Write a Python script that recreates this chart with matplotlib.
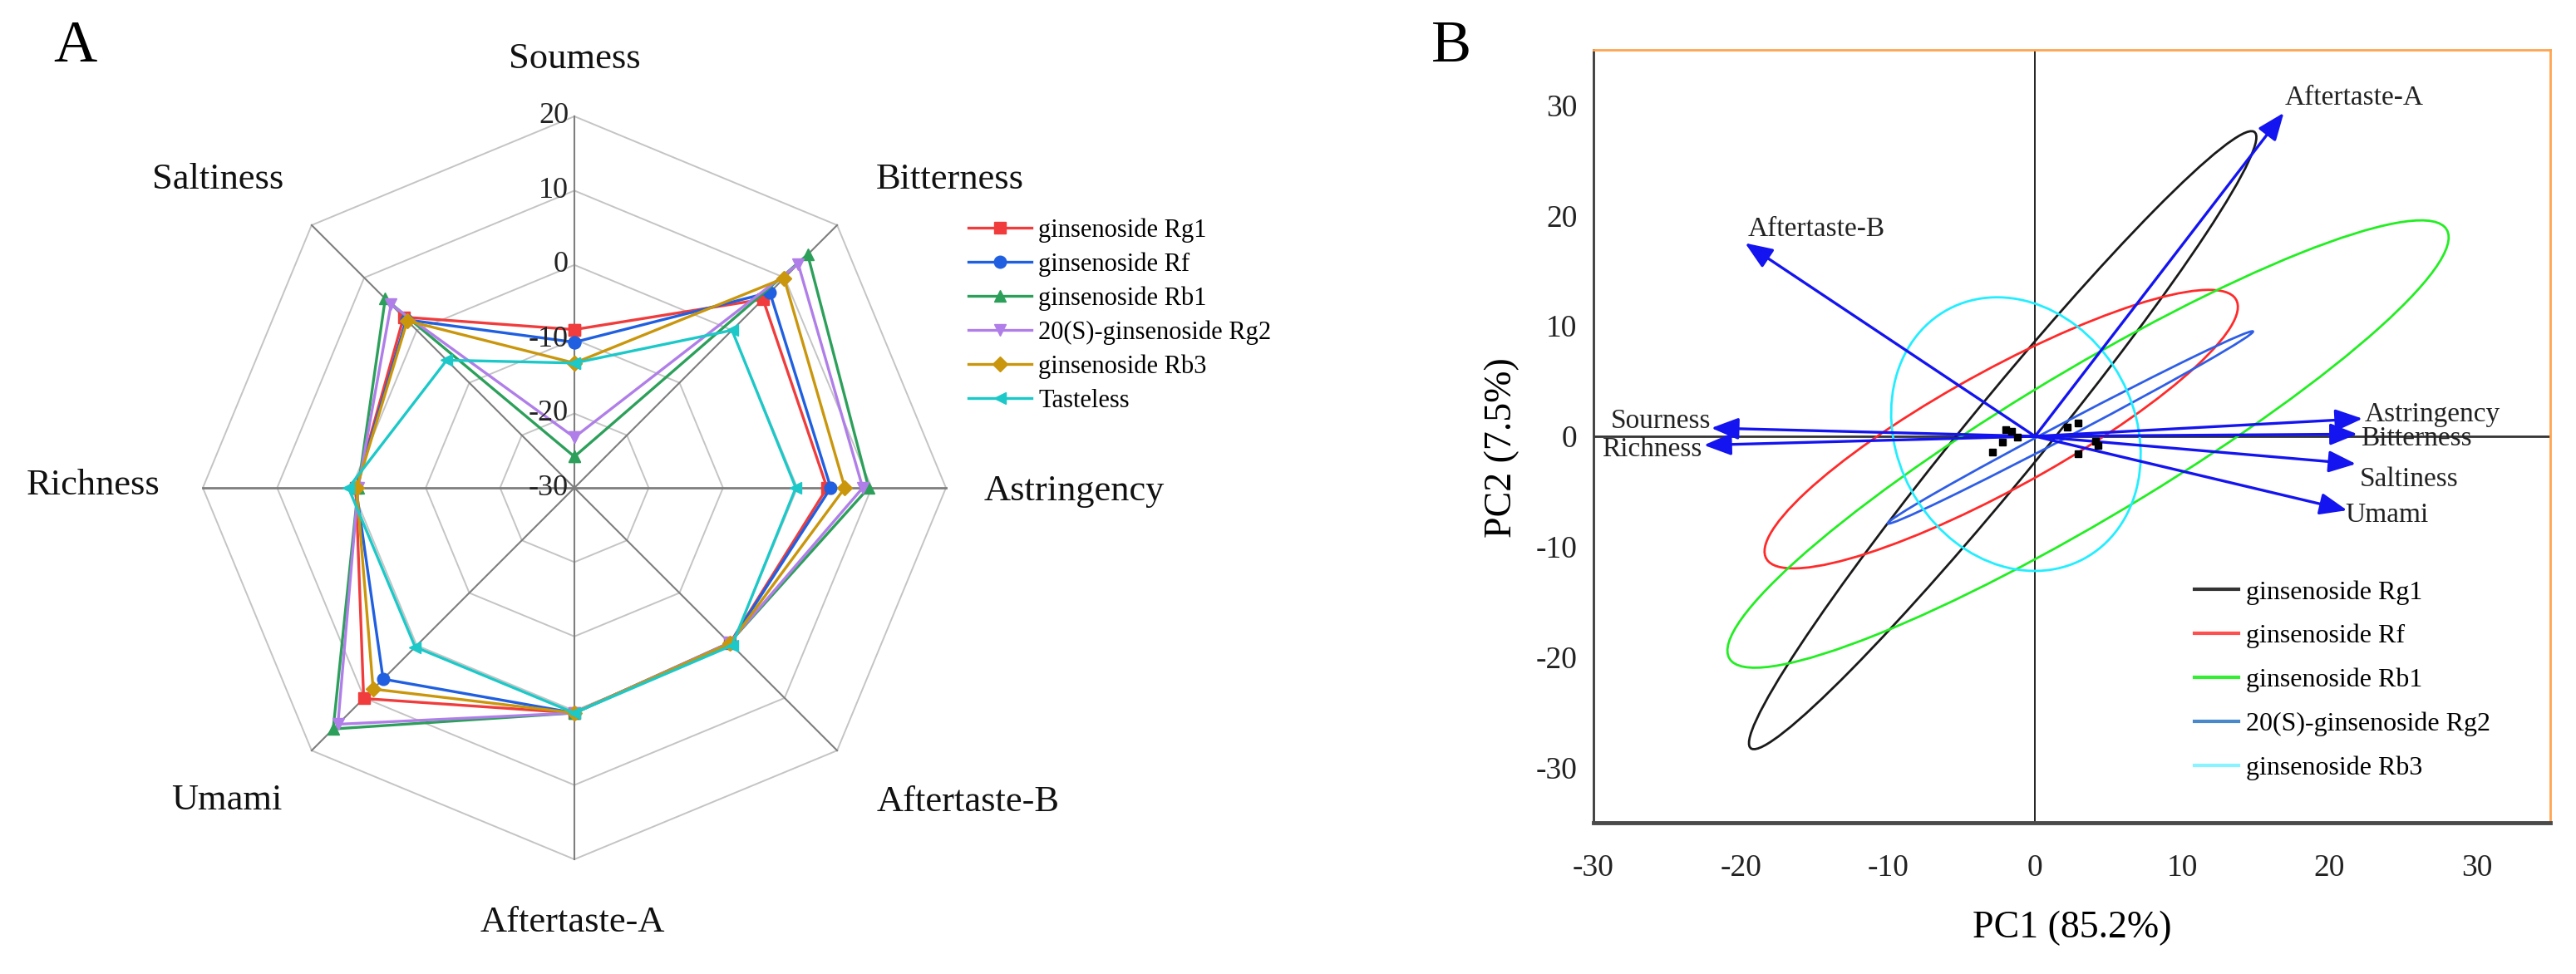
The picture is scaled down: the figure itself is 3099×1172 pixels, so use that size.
import numpy as np
import matplotlib
matplotlib.use("Agg")
import matplotlib.pyplot as plt
from matplotlib.patches import Ellipse
from matplotlib.lines import Line2D

plt.rcParams['font.family'] = ['Liberation Serif', 'DejaVu Serif']
plt.rcParams['axes.unicode_minus'] = False

# ---------------- Panel A data (radar) ----------------
taste_axes = ["Soumess", "Bitterness", "Astringency", "Aftertaste-B",
              "Aftertaste-A", "Umami", "Richness", "Saltiness"]
radar_ticks = [20, 10, 0, -10, -20, -30]
radar_samples = ["ginsenoside Rg1", "ginsenoside Rf", "ginsenoside Rb1",
                 "20(S)-ginsenoside Rg2", "ginsenoside Rb3", "Tasteless"]
rg1_vals = [-8.7, 5.9, 4.0, -0.4, 0.3, 10.1, -0.6, 2.5]
rf_vals = [-10.4, 7.2, 4.5, -0.4, 0.3, 6.4, -0.6, 2.0]
rb1_vals = [-25.8, 14.4, 9.6, -0.5, 0.3, 15.9, -0.9, 6.0]
rg2_vals = [-23.2, 12.6, 8.8, -0.5, 0.3, 15.0, -0.9, 4.9]
rb3_vals = [-13.2, 9.9, 6.4, -0.4, 0.3, 8.3, -0.7, 1.8]
tasteless_vals = [-13.2, 0.0, -0.2, 0.0, 0.3, 0.3, 0.4, -5.7]

# ---------------- Panel B data (PCA biplot) ----------------
loading_names = ["Aftertaste-A", "Aftertaste-B", "Sourness", "Richness",
                 "Astringency", "Bitterness", "Saltiness", "Umami"]
loading_pc1 = [16.9, -19.7, -22.0, -22.5, 22.25, 21.9, 21.8, 21.2]
loading_pc2 = [29.3, 17.5, 0.75, -0.8, 1.6, 0.2, -2.5, -6.7]

score_pc1 = [-2.0, -1.6, -1.2, -2.2, -2.9, 2.2, 2.9, 4.1, 2.9, 4.3]
score_pc2 = [0.6, 0.45, -0.1, -0.5, -1.4, 0.8, 1.2, -0.45, -1.6, -0.8]

ellipse_groups = ["ginsenoside Rg1", "ginsenoside Rf", "ginsenoside Rb1",
                  "20(S)-ginsenoside Rg2", "ginsenoside Rb3"]
ellipse_cx = [-2.2, -2.3, 3.6, 2.4, -1.3]
ellipse_cy = [-0.35, 0.65, -0.7, 0.8, 0.2]
ellipse_semi_major = [32.74, 19.84, 31.2, 15.15, 12.51]
ellipse_semi_minor = [2.9, 4.9, 6.1, 0.6, 8.3]
ellipse_angle = [58.6, 37.2, 39.15, 35.05, 100.6]

pc1_ticks = [-30, -20, -10, 0, 10, 20, 30]
pc2_ticks = [-30, -20, -10, 0, 10, 20, 30]

# ---------------- Figure ----------------
W, H = 3099, 1172
fig = plt.figure(figsize=(W / 100, H / 100), dpi=100)

# ---- Panel A ----
axA = fig.add_axes([244 / W, 1 - 1034 / H, 894 / W, 894 / H], projection='polar')
axA.set_theta_zero_location('N')
axA.set_theta_direction(-1)
axA.set_ylim(-30, 20)
axA.grid(False)
axA.set_xticks([])
axA.set_yticks([])
axA.spines['polar'].set_visible(False)
axA.patch.set_alpha(0)

n = len(taste_axes)
theta = np.arange(n) * 2 * np.pi / n
theta_c = np.append(theta, theta[0])

for rv in radar_ticks[:-1]:
    axA.plot(theta_c, [rv] * (n + 1), color='#c4c4c4', lw=1.4, zorder=1, clip_on=False)
for i, t in enumerate(theta):
    axA.plot([t, t], [radar_ticks[-1], radar_ticks[0]], color='#7e7e7e',
             lw=2.0 if i in (2, 6) else 1.5, zorder=1.5, clip_on=False)

series = [rg1_vals, rf_vals, rb1_vals, rg2_vals, rb3_vals, tasteless_vals]
colors = ['#f03c3c', '#1f5fe0', '#2ca05a', '#b07ee8', '#c9960c', '#1cc8c8']
markers = ['s', 'o', '^', 'v', 'D', '<']
msizes = [10, 10.5, 10.5, 10.5, 9.5, 10.5]
handlesA = []
for vals, name, c, m, ms in zip(series, radar_samples, colors, markers, msizes):
    vv = np.append(vals, vals[0])
    h, = axA.plot(theta_c, vv, color=c, lw=2.4, marker=m, ms=ms, mec=c, mfc=c,
                  label=name, zorder=3, clip_on=False)
    handlesA.append(h)

for rv in radar_ticks:
    axA.annotate(str(rv), xy=(0, rv), xytext=(-5, 0), textcoords='offset points',
                 ha='right', va='center', fontsize=26, color='#222222', zorder=4)

label_pos = {
    "Soumess": (691, 71), "Bitterness": (1143, 216), "Astringency": (1292, 591),
    "Aftertaste-B": (1165, 965), "Aftertaste-A": (689, 1110), "Umami": (273, 963),
    "Richness": (112, 584), "Saltiness": (262, 216),
}
for name in taste_axes:
    px, py = label_pos[name]
    fig.text(px / W, 1 - py / H, name, ha='center', va='center', fontsize=32,
             color='#111111')

legA = fig.legend(handles=handlesA, loc='upper left',
                  bbox_to_anchor=(1165 / W, 1 - 262 / H), frameon=False,
                  fontsize=22, handlelength=2.5, handletextpad=0.25,
                  labelspacing=0.38, borderpad=0, borderaxespad=0)

fig.text(90 / W, 1 - 56 / H, "A", ha='center', va='center', fontsize=52)

# ---- Panel B ----
axB = fig.add_axes([1917 / W, 1 - 990 / H, 1151 / W, 930 / H])
axB.set_xlim(-30, 35)
axB.set_ylim(-35, 35)
axB.set_xticks(pc1_ticks)
axB.set_xticklabels([str(v) for v in pc1_ticks])
axB.set_yticks(pc2_ticks)
axB.set_yticklabels([str(v) for v in pc2_ticks])
axB.tick_params(axis='both', length=0, labelsize=27, colors='#222222')
axB.tick_params(axis='x', pad=27)
axB.tick_params(axis='y', pad=14)
axB.spines['top'].set_color('#ffa54f')
axB.spines['right'].set_color('#ffa54f')
axB.spines['top'].set_linewidth(2.0)
axB.spines['right'].set_linewidth(2.0)
axB.spines['left'].set_color('#3a3a3a')
axB.spines['left'].set_linewidth(2.0)
axB.spines['bottom'].set_color('#4a4a4a')
axB.spines['bottom'].set_linewidth(3.5)

axB.axhline(0, color='#333333', lw=2.0, zorder=1)
axB.axvline(0, color='#222222', lw=1.4, zorder=1)

ell_colors = ['#1a1a1a', '#ff2a2a', '#22ee22', '#2f5ee6', '#22eeff']
leg_colors = ['#333333', '#ff5050', '#33ee33', '#4a88cc', '#88f4ff']
for cx, cy, a, b, ang, c in zip(ellipse_cx, ellipse_cy, ellipse_semi_major,
                                ellipse_semi_minor, ellipse_angle, ell_colors):
    e = Ellipse((cx, cy), width=2 * a, height=2 * b, angle=ang, fill=False,
                edgecolor=c, lw=2.0, zorder=2)
    axB.add_patch(e)

axB.plot(score_pc1, score_pc2, 's', color='black', ms=6, zorder=4)

label_off = {
    "Aftertaste-A": (0.7, 13, 'left'), "Aftertaste-B": (2, 12, 'left'),
    "Sourness": (0, 6, 'right'), "Richness": (-1.5, -3.6, 'right'),
    "Astringency": (1.5, 3.6, 'left'), "Bitterness": (3, -3.6, 'left'),
    "Saltiness": (3, -13, 'left'), "Umami": (-1.5, -4.3, 'left'),
}
for name, x, y in zip(loading_names, loading_pc1, loading_pc2):
    axB.annotate('', xy=(x, y), xytext=(0, 0),
                 arrowprops=dict(arrowstyle='-|>,head_length=20,head_width=8',
                                 mutation_scale=1, color='#1414f0', lw=2.4,
                                 shrinkA=0, shrinkB=0), zorder=3)
    dx, dy, ha = label_off[name]
    axB.annotate(name, xy=(x, y), xytext=(dx, dy), textcoords='offset points',
                 ha=ha, va='center', fontsize=24, color='#222222', zorder=5)

handlesB = [Line2D([], [], color=c, lw=3) for c in leg_colors]
axB.legend(handles=handlesB, labels=ellipse_groups, loc='upper left',
           bbox_to_anchor=(2640 / W, 1 - 698 / H), bbox_transform=fig.transFigure,
           frameon=False, fontsize=23, handlelength=1.65, handletextpad=0.3,
           labelspacing=0.73, borderpad=0, borderaxespad=0)

axB.set_xlabel("PC1 (85.2%)", fontsize=33)
axB.set_ylabel("PC2 (7.5%)", fontsize=33)
axB.xaxis.set_label_coords(0.5, -0.113)
axB.yaxis.set_label_coords(-0.077, 0.485)

fig.text(1746 / W, 1 - 56 / H, "B", ha='center', va='center', fontsize=52)

fig.savefig("out.png", dpi=100)
